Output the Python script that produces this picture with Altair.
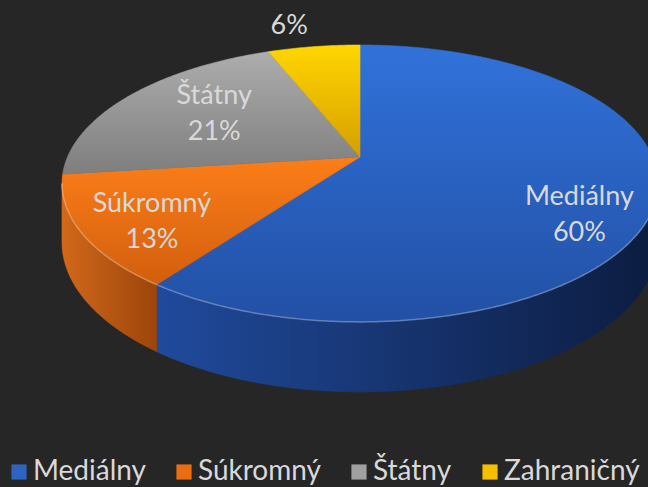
import math
import pandas as pd
import altair as alt

# ---------------- data ----------------
categories = ["Mediálny", "Súkromný", "Štátny", "Zahraničný"]
shares = [60, 13, 21, 6]
pct_text = ["60%", "13%", "21%", "6%"]
inside_name = ["Mediálny", "Súkromný", "Štátny", ""]

# ---------------- styling / layout ----------------
legend_colors = ["#2E63C2", "#E96E10", "#A0A0A0", "#F4C000"]
top_stops = [("#3172DA", "#2250A5"), ("#FC7E18", "#D25E0E"),
             ("#ADADAD", "#7E7E7E"), ("#FFD600", "#D69E00")]
side_stops = [("#204A9C", "#0C1C40"), ("#D2681A", "#9C450B"),
              ("#7A7A7A", "#555555"), ("#C99A00", "#8A6A00")]

W, H = 648, 487
CX, CY = 360.0, 157.0          # pie apex on screen
RX, RY = 292.5, 133.4          # ellipse radii
K = 0.191                      # perspective factor
DEPTH = 56.6                   # thickness of the pie
label_r = [0.80, 0.79, 0.63, 1.25]
label_shift = [12, -4, 2, -3]
FONT = "Lato"
TXT = "#D9D9D9"


def proj(theta, r=1.0, depth=0.0):
    t = math.radians(theta)
    X = r * math.sin(t)
    Y = -r * math.cos(t)
    s = 1.0 / (1.0 - K * Y)
    return CX + RX * X * s, CY + (RY * Y + depth) * s


vis_lo = math.degrees(math.acos(-K))
vis_hi = 360.0 - vis_lo

total = float(sum(shares))
rows, label_rows, side_ids = [], [], []
start = 0.0
for i, (cat, v) in enumerate(zip(categories, shares)):
    end = start + 360.0 * v / total
    n = max(int((end - start) / 0.5), 2)
    arc = [start + (end - start) * j / n for j in range(n + 1)]
    pts = [(CX, CY)] + [proj(a) for a in arc]
    for j, (x, y) in enumerate(pts):
        rows.append(dict(part=f"top{i}", i=j, x=x, y=y))
    lo, hi = max(start, vis_lo), min(end, vis_hi)
    if hi > lo:
        side_ids.append(i)
        m = max(int((hi - lo) / 0.5), 2)
        sarc = [lo + (hi - lo) * j / m for j in range(m + 1)]
        side = [proj(a) for a in sarc] + [proj(a, depth=DEPTH) for a in reversed(sarc)]
        for j, (x, y) in enumerate(side):
            rows.append(dict(part=f"side{i}", i=j, x=x, y=y))
        for j, a in enumerate(sarc):
            x, y = proj(a)
            rows.append(dict(part=f"rim{i}", i=j, x=x, y=y))
    mid = (start + end) / 2 + label_shift[i]
    lx, ly = proj(mid, label_r[i])
    label_rows.append(dict(cat=cat, name=inside_name[i], pct=pct_text[i],
                           inside=inside_name[i] != "", x=lx, y=ly))
    start = end

df = pd.DataFrame(rows)
ldf = pd.DataFrame(label_rows)

xs = alt.Scale(domain=[0, W], nice=False, zero=False)
ys = alt.Scale(domain=[H, 0], nice=False, zero=False)
X = alt.X("x:Q", scale=xs, axis=None)
Y = alt.Y("y:Q", scale=ys, axis=None)


def grad(c0, c1, horizontal=False):
    return alt.Gradient(
        gradient="linear",
        stops=[alt.GradientStop(color=c0, offset=0), alt.GradientStop(color=c1, offset=1)],
        x1=0, y1=0, x2=1 if horizontal else 0, y2=0 if horizontal else 1,
    )


base = alt.Chart(df).encode(x=X, y=Y, order=alt.Order("i:Q"))

layers = []
for i in side_ids:
    g = grad(side_stops[i][0], side_stops[i][1], horizontal=True)
    layers.append(base.transform_filter(alt.datum.part == f"side{i}")
                  .mark_line(fill=g, stroke=g, strokeWidth=0.6, interpolate="linear-closed"))
for i in range(len(categories)):
    g = grad(top_stops[i][0], top_stops[i][1])
    layers.append(base.transform_filter(alt.datum.part == f"top{i}")
                  .mark_line(fill=g, stroke=g, strokeWidth=0.6, interpolate="linear-closed"))
for i in side_ids:
    layers.append(base.transform_filter(alt.datum.part == f"rim{i}")
                  .mark_line(stroke="#FFFFFF", strokeOpacity=0.3, strokeWidth=1.5))

lbase = alt.Chart(ldf).encode(x=X, y=Y)
names = lbase.transform_filter(alt.datum.inside).mark_text(
    font=FONT, fontSize=27, color=TXT, baseline="middle", align="center", dy=-18
).encode(text="name:N")
pcts_in = lbase.transform_filter(alt.datum.inside).mark_text(
    font=FONT, fontSize=27, color=TXT, baseline="middle", align="center", dy=18
).encode(text="pct:N")
pcts_out = lbase.transform_filter("!datum.inside").mark_text(
    font=FONT, fontSize=27, color=TXT, baseline="middle", align="center"
).encode(text="pct:N")

leg_df = pd.DataFrame({"cat": categories, "x": [-50] * 4, "y": [-50] * 4})
legend_layer = alt.Chart(leg_df).mark_square(clip=True, size=10, opacity=1).encode(
    x=X, y=Y,
    color=alt.Color(
        "cat:N",
        sort=categories,
        scale=alt.Scale(domain=categories, range=legend_colors),
        legend=alt.Legend(
            orient="none", legendX=5, legendY=458, direction="horizontal",
            title=None, symbolType="square", symbolSize=230, symbolStrokeWidth=0,
            symbolOpacity=1,
            labelFontSize=28, labelFont=FONT, labelColor=TXT, labelLimit=200,
            columnPadding=24, labelOffset=0,
        ),
    ),
)

chart = alt.layer(legend_layer, *layers, names, pcts_in, pcts_out).properties(
    width=W, height=H, background="#262626", padding=0,
    autosize=alt.AutoSizeParams(type="none"),
).configure_view(stroke=None)

chart.save("out.html", embed_options={"renderer": "svg", "actions": False})
